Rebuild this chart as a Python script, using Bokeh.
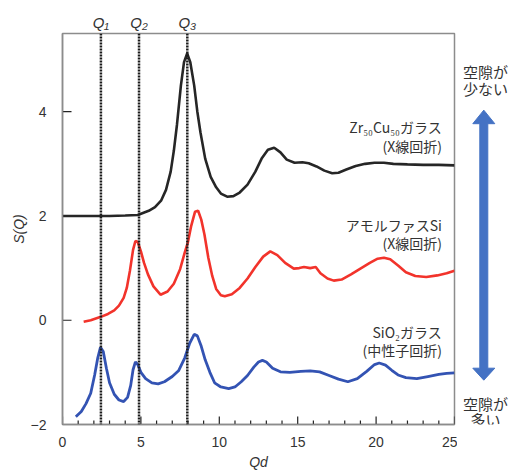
from bokeh.plotting import figure
from bokeh.models import Range1d, FixedTicker, Span, LinearAxis
from bokeh.layouts import row
from bokeh.core.properties import value
from bokeh.embed import file_html
from bokeh.resources import INLINE

# ---- data ----
x_zrcu = [0, 1, 2, 3, 4, 4.8, 5.5, 5.9, 6.3, 6.6, 6.9, 7.1, 7.3, 7.55, 7.75, 7.95, 8.15, 8.4, 8.6, 8.8,
          9.1, 9.45, 9.8, 10.1, 10.5, 10.9, 11.3, 11.8, 12.3, 12.7, 13.1, 13.5, 13.9, 14.3, 14.8, 15.3,
          15.7, 16.2, 16.7, 17.2, 17.6, 18.1, 18.7, 19.3, 19.9, 20.5, 21.1, 22, 23, 24, 25]
y_zrcu = [2.0, 2.0, 2.0, 2.0, 2.01, 2.02, 2.1, 2.17, 2.3, 2.5, 2.85, 3.25, 3.75, 4.5, 4.95, 5.12, 4.95,
          4.5, 4.0, 3.6, 3.1, 2.75, 2.55, 2.43, 2.37, 2.38, 2.45, 2.6, 2.85, 3.1, 3.27, 3.31, 3.22, 3.08,
          3.02, 3.03, 3.01, 2.95, 2.87, 2.82, 2.83, 2.89, 2.96, 3.0, 3.02, 3.02, 3.0, 2.99, 2.98, 2.98, 2.97]

x_asi = [1.35, 1.8, 2.4, 2.9, 3.3, 3.6, 3.9, 4.1, 4.3, 4.5, 4.65, 4.8, 5.0, 5.2, 5.45, 5.8, 6.25, 6.7,
         7.1, 7.5, 7.8, 8.0, 8.2, 8.45, 8.65, 8.85, 9.05, 9.3, 9.55, 9.8, 10.1, 10.35, 10.8, 11.3, 11.8,
         12.3, 12.8, 13.25, 13.7, 14.2, 14.75, 15.1, 15.4, 15.8, 16.15, 16.45, 16.9, 17.3, 17.8, 18.4,
         19.0, 19.6, 20.1, 20.5, 20.9, 21.4, 21.9, 22.5, 23.2, 23.9, 24.5, 25]
y_asi = [-0.03, 0.0, 0.06, 0.12, 0.19, 0.28, 0.43, 0.62, 0.95, 1.35, 1.52, 1.5, 1.32, 1.1, 0.88, 0.65,
         0.49, 0.55, 0.7, 0.98, 1.3, 1.5, 1.8, 2.08, 2.1, 1.93, 1.65, 1.2, 0.85, 0.6, 0.48, 0.46, 0.5,
         0.62, 0.8, 1.02, 1.22, 1.32, 1.25, 1.1, 0.99, 1.0, 1.02, 1.0, 1.02, 0.9, 0.8, 0.76, 0.78, 0.88,
         0.99, 1.1, 1.18, 1.2, 1.17, 1.05, 0.92, 0.85, 0.83, 0.86, 0.9, 0.95]

x_sio2 = [0.85, 1.2, 1.5, 1.8, 2.05, 2.25, 2.42, 2.6, 2.8, 3.0, 3.3, 3.6, 3.9, 4.15, 4.35, 4.5, 4.65,
          4.8, 5.0, 5.3, 5.7, 6.1, 6.5, 7.0, 7.4, 7.8, 8.1, 8.4, 8.6, 8.85, 9.1, 9.4, 9.7, 10.1, 10.6,
          11.0, 11.4, 11.8, 12.2, 12.5, 12.75, 13.0, 13.4, 13.9, 14.5, 15.2, 15.8, 16.4, 17.0, 17.6,
          18.2, 18.8, 19.4, 19.9, 20.2, 20.6, 21.0, 21.4, 21.9, 22.6, 23.3, 24.0, 24.5, 25]
y_sio2 = [-1.85, -1.75, -1.6, -1.4, -1.05, -0.72, -0.52, -0.6, -0.92, -1.2, -1.42, -1.53, -1.56, -1.48,
          -1.25, -0.95, -0.8, -0.85, -1.0, -1.12, -1.2, -1.22, -1.18, -1.08, -0.97, -0.72, -0.45, -0.27,
          -0.3, -0.5, -0.76, -1.0, -1.2, -1.28, -1.31, -1.28, -1.18, -1.06, -0.9, -0.8, -0.77, -0.8,
          -0.92, -0.99, -1.0, -0.98, -0.97, -0.99, -1.06, -1.13, -1.18, -1.12, -0.98, -0.85, -0.82,
          -0.86, -0.96, -1.05, -1.1, -1.12, -1.08, -1.04, -1.02, -1.01]

q_positions = [2.45, 4.88, 7.96]
q_labels = ["Q\u2081", "Q\u2082", "Q\u2083"]

series_labels = ["Zr\u2085\u2080Cu\u2085\u2080ガラス", "(X線回折)",
                 "アモルファスSi", "(X線回折)",
                 "SiO\u2082ガラス", "(中性子回折)"]
series_label_y = [3.71, 3.35, 1.82, 1.48, -0.22, -0.57]

side_texts = ["空隙が", "少ない", "空隙が", "多い"]
side_text_y = [4.78, 4.44, -1.59, -1.91]

x_ticks = [0, 5, 10, 15, 20, 25]
x_minor_ticks = [i for i in range(26) if i % 5 != 0]
y_ticks = [-2, 0, 2, 4]

JP = "Noto Sans CJK JP"
LAT = "Liberation Sans"

X0, X1, Y0, Y1 = 0, 25, -2, 5.5
FW, FH = 392, 392          # frame size in px
BL, BR, BT, BB = 62, 3, 33, 47

yr = Range1d(Y0, Y1)
p = figure(width=BL + FW + BR, height=BT + FH + BB, output_backend="svg", toolbar_location=None,
           x_range=Range1d(X0, X1), y_range=yr,
           min_border_left=BL, min_border_right=BR, min_border_top=BT, min_border_bottom=BB)
p.xgrid.visible = False
p.ygrid.visible = False
p.outline_line_color = "#8c8c8c"
p.outline_line_width = 1.5
p.border_fill_color = "white"

for ax in (p.xaxis[0], p.yaxis[0]):
    ax.axis_line_color = "#8c8c8c"
    ax.axis_line_width = 1.5
    ax.major_tick_line_color = None
    ax.minor_tick_line_color = None
    ax.major_label_text_font = LAT
    ax.major_label_text_font_size = "14px"
    ax.major_label_text_color = "#333333"
    ax.axis_label_text_font = LAT
    ax.axis_label_text_font_size = "14px"
    ax.axis_label_text_font_style = "italic"
    ax.axis_label_text_color = "#333333"

p.xaxis.ticker = FixedTicker(ticks=x_ticks)
p.xaxis.major_label_standoff = 6
p.xaxis.axis_label = "Qd"
p.xaxis.axis_label_standoff = 4

p.yaxis.ticker = FixedTicker(ticks=y_ticks)
p.yaxis.major_label_standoff = 10
p.yaxis.axis_label = "S(Q)"
p.yaxis.axis_label_standoff = 1

# Q labels as a top axis
qaxis = LinearAxis(ticker=FixedTicker(ticks=q_positions),
                   major_label_overrides={q: l for q, l in zip(q_positions, q_labels)},
                   axis_line_color=None, major_tick_line_color=None, minor_tick_line_color=None,
                   major_label_standoff=-3, major_label_text_font=LAT,
                   major_label_text_font_size="15px", major_label_text_font_style="italic",
                   major_label_text_color="#333333")
p.add_layout(qaxis, "above")

# inward ticks (drawn in the frame)
ux = (X1 - X0) / FW
uy = (Y1 - Y0) / FH
p.segment(x0=x_ticks, y0=[Y0] * len(x_ticks), x1=x_ticks, y1=[Y0 + 8 * uy] * len(x_ticks),
          line_color="#222222", line_width=1.2)
p.segment(x0=x_minor_ticks, y0=[Y0] * len(x_minor_ticks), x1=x_minor_ticks,
          y1=[Y0 + 4 * uy] * len(x_minor_ticks), line_color="#222222", line_width=1.2)
p.segment(x0=[X0] * len(y_ticks), y0=y_ticks, x1=[X0 + 9 * ux] * len(y_ticks), y1=y_ticks,
          line_color="#222222", line_width=1.2)

# curves
p.line(x_zrcu, y_zrcu, line_color="#262626", line_width=2.6)
p.line(x_asi, y_asi, line_color="#f2332b", line_width=2.6)
p.line(x_sio2, y_sio2, line_color="#3353b3", line_width=2.8)

# Q reference lines
for qx in q_positions:
    p.add_layout(Span(location=qx, dimension="height", line_color="#1a1a1a",
                      line_width=2.5, line_dash="2 1", level="overlay"))

# series labels
p.text(x=[24.2] * len(series_labels), y=series_label_y, text=series_labels,
       text_font=value(JP), text_font_size="14px", text_color="#333333",
       text_align="right", text_baseline="middle")

# right-hand panel with the double arrow
SW = 54
p2 = figure(width=SW, height=BT + FH + BB, output_backend="svg", toolbar_location=None,
            x_range=Range1d(0, SW), y_range=yr, x_axis_type=None, y_axis_type=None,
            min_border_left=0, min_border_right=0, min_border_top=BT, min_border_bottom=BB)
p2.xgrid.visible = False
p2.ygrid.visible = False
p2.outline_line_color = None
p2.border_fill_color = "white"

cx = 26.3
hw, sw = 11, 4
p2.patch(x=[cx, cx + hw, cx + sw, cx + sw, cx + hw, cx, cx - hw, cx - sw, cx - sw, cx - hw],
         y=[4.03, 3.77, 3.77, -0.92, -0.92, -1.15, -0.92, -0.92, 3.77, 3.77],
         fill_color="#4472c4", line_color="#4472c4", line_width=1)
p2.text(x=[28] * len(side_texts), y=side_text_y, text=side_texts,
        text_font=value(JP), text_font_size="15px", text_color="#333333",
        text_align="center", text_baseline="middle")

layout = row(p, p2)
open("out.html", "w").write(file_html(layout, INLINE))
